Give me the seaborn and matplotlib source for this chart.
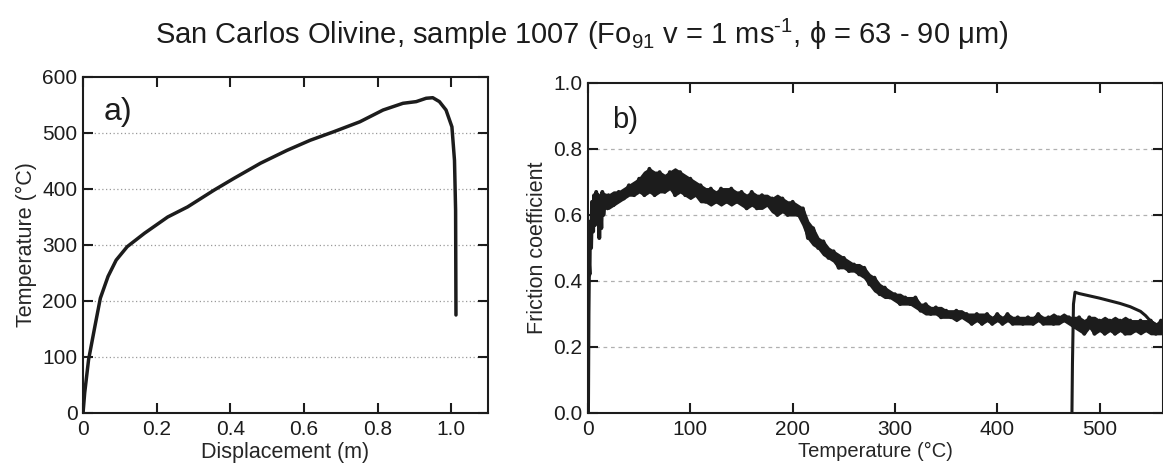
import numpy as np
import pandas as pd
import seaborn as sns
import matplotlib.pyplot as plt

# ---------------------------------------------------------------------------- #
#                                     Datos                                    #
# ---------------------------------------------------------------------------- #
# a) temperatura vs desplazamiento
desplazamiento = [0.0, 0.0045, 0.015, 0.032, 0.047, 0.068, 0.09, 0.12, 0.167, 0.23,
                  0.284, 0.356, 0.41, 0.482, 0.554, 0.617, 0.68, 0.752, 0.815, 0.869,
                  0.905, 0.932, 0.95, 0.968, 0.986, 1.002, 1.009, 1.012, 1.013]
temperatura = [0, 36, 95, 154, 205, 244, 273, 297, 321, 350,
               368, 398, 419, 446, 469, 487, 502, 520, 541, 553,
               556, 562, 563, 556, 541, 511, 451, 362, 175]

# b) friccion vs temperatura: arranque (t=0)
t_inicio = [0, 0.5, 1, 1.5, 2, 3, 4, 5, 6, 7, 8, 9, 10, 11, 12, 13, 14, 15, 17, 19, 21]
mu_inicio = [0.0, 0.30, 0.45, 0.42, 0.58, 0.50, 0.64, 0.55, 0.66, 0.57, 0.67,
             0.60, 0.66, 0.53, 0.64, 0.56, 0.67, 0.60, 0.66, 0.62, 0.65]

# banda ruidosa: borde inferior / superior cada 5 C
t_banda = list(range(20, 570, 5))
mu_bajo = [0.62, 0.63, 0.64, 0.65, 0.66, 0.66, 0.67, 0.66, 0.67, 0.66, 0.67, 0.67, 0.68, 0.66, 0.67, 0.66,
           0.65, 0.66, 0.64, 0.64, 0.63, 0.64, 0.63, 0.64, 0.63, 0.64, 0.63, 0.62, 0.63, 0.62, 0.62, 0.63,
           0.61, 0.60, 0.61, 0.60, 0.60, 0.60, 0.57, 0.53, 0.51, 0.50, 0.48, 0.47, 0.46, 0.44, 0.44, 0.43,
           0.43, 0.42, 0.41, 0.39, 0.37, 0.36, 0.35, 0.35, 0.34, 0.33, 0.33, 0.33, 0.32, 0.31, 0.30, 0.30,
           0.30, 0.29, 0.29, 0.29, 0.28, 0.29, 0.28, 0.27, 0.28, 0.27, 0.28, 0.27, 0.28, 0.27, 0.28, 0.27,
           0.27, 0.27, 0.27, 0.27, 0.28, 0.27, 0.27, 0.27, 0.27, 0.28, 0.27, 0.26, 0.25, 0.24, 0.26, 0.24,
           0.25, 0.24, 0.25, 0.24, 0.25, 0.24, 0.24, 0.25, 0.24, 0.25, 0.24, 0.24, 0.24, 0.25]
mu_alto = [0.66, 0.67, 0.67, 0.68, 0.69, 0.70, 0.71, 0.73, 0.74, 0.73, 0.73, 0.72, 0.73, 0.74, 0.73, 0.72,
           0.71, 0.70, 0.69, 0.68, 0.68, 0.67, 0.68, 0.68, 0.68, 0.67, 0.67, 0.66, 0.67, 0.66, 0.66, 0.66,
           0.65, 0.66, 0.65, 0.64, 0.64, 0.63, 0.62, 0.58, 0.56, 0.53, 0.52, 0.50, 0.49, 0.48, 0.47, 0.46,
           0.45, 0.45, 0.44, 0.42, 0.41, 0.39, 0.38, 0.37, 0.36, 0.36, 0.35, 0.35, 0.35, 0.33, 0.33, 0.32,
           0.32, 0.32, 0.31, 0.31, 0.31, 0.31, 0.30, 0.30, 0.30, 0.30, 0.30, 0.29, 0.30, 0.29, 0.30, 0.29,
           0.29, 0.29, 0.29, 0.29, 0.30, 0.29, 0.29, 0.30, 0.29, 0.30, 0.29, 0.29, 0.29, 0.28, 0.29, 0.29,
           0.28, 0.29, 0.28, 0.29, 0.28, 0.29, 0.28, 0.28, 0.28, 0.28, 0.28, 0.27, 0.28, 0.28]

# rama final (enfriamiento)
t_final = [473, 473.5, 474.5, 476, 480, 490, 500, 510, 520, 530, 540, 545, 550, 555, 560]
mu_final = [0.0, 0.15, 0.33, 0.366, 0.362, 0.355, 0.348, 0.340, 0.332, 0.322, 0.308,
            0.295, 0.278, 0.268, 0.262]

titulo = "San Carlos Olivine, sample 1007 (Fo$_{91}$ v = 1 ms$^{\u2010 1}$, \u03d5 = 63 - 90 \u03bcm)"

# ---------------------------------------------------------------------------- #
#                                    Grafico                                   #
# ---------------------------------------------------------------------------- #
sns.set_theme(style="ticks")
plt.rcParams['font.family'] = ['Liberation Sans', 'DejaVu Sans']
plt.rcParams['mathtext.fontset'] = 'custom'
plt.rcParams['mathtext.rm'] = 'Liberation Sans'
plt.rcParams['mathtext.it'] = 'Liberation Sans'

negro = "#1c1c1c"
fig = plt.figure(figsize=(11.63, 4.72), dpi=100)
ax1 = fig.add_axes([0.0714, 0.125, 0.3482, 0.7119])
ax2 = fig.add_axes([0.5056, 0.125, 0.4944, 0.6992])

# a)
df_a = pd.DataFrame({"x": desplazamiento, "y": temperatura})
sns.lineplot(data=df_a, x="x", y="y", ax=ax1, sort=False, estimator=None, color=negro, linewidth=2.5)
ax1.set_xlim(0, 1.1)
ax1.set_ylim(0, 600)
ax1.set_xticks([0, 0.2, 0.4, 0.6, 0.8, 1.0])
ax1.set_xticklabels(["0", "0.2", "0.4", "0.6", "0.8", "1.0"])
ax1.set_yticks(range(0, 700, 100))
ax1.set_xlabel("Displacement (m)", fontsize=15.5, labelpad=2)
ax1.set_ylabel("Temperature (\u00b0C)", fontsize=15.5, labelpad=4)
for yv in range(100, 600, 100):
    ax1.axhline(yv, color="#9a9a9a", linestyle=(0, (1, 2)), linewidth=0.9, zorder=0)
ax1.text(0.05, 0.895, "a)", transform=ax1.transAxes, fontsize=23, va="center", ha="left", color=negro)

# b)
ax2.fill_between(t_banda, mu_bajo, mu_alto, color=negro, linewidth=1.5, edgecolor=negro)
zigzag_t = []
zigzag_mu = []
for i, t in enumerate(t_banda):
    zigzag_t.append(t)
    zigzag_mu.append(mu_alto[i] if i % 2 == 0 else mu_bajo[i])
df_b = pd.DataFrame({"t": t_inicio + zigzag_t, "mu": mu_inicio + zigzag_mu})
sns.lineplot(data=df_b, x="t", y="mu", ax=ax2, sort=False, estimator=None, color=negro, linewidth=2.8)
df_c = pd.DataFrame({"t": t_final, "mu": mu_final})
sns.lineplot(data=df_c, x="t", y="mu", ax=ax2, sort=False, estimator=None, color=negro, linewidth=2.2)
ax2.set_xlim(0, 562)
ax2.set_ylim(0, 1.0)
ax2.set_xticks(range(0, 600, 100))
ax2.set_yticks([0.0, 0.2, 0.4, 0.6, 0.8, 1.0])
ax2.set_yticklabels(["0.0", "0.2", "0.4", "0.6", "0.8", "1.0"])
ax2.set_xlabel("Temperature (\u00b0C)", fontsize=14.5, labelpad=2)
ax2.set_ylabel("Friction coefficient", fontsize=15.5, labelpad=4)
for yv in [0.2, 0.4, 0.6, 0.8]:
    ax2.axhline(yv, color="#b0b0b0", linestyle=(0, (3, 3)), linewidth=0.9, zorder=0)
ax2.text(0.042, 0.888, "b)", transform=ax2.transAxes, fontsize=21, va="center", ha="left", color=negro)

for ax in (ax1, ax2):
    for s in ax.spines.values():
        s.set_linewidth(1.5)
        s.set_color(negro)
    ax.tick_params(which="both", direction="in", top=True, right=True, length=7, width=1.5,
                   labelsize=15, pad=5, colors=negro)
    ax.tick_params(axis="y", pad=4)

fig.suptitle(titulo, fontsize=21, x=0.5, y=0.965, color=negro)

plt.savefig("out.png", dpi=100)
